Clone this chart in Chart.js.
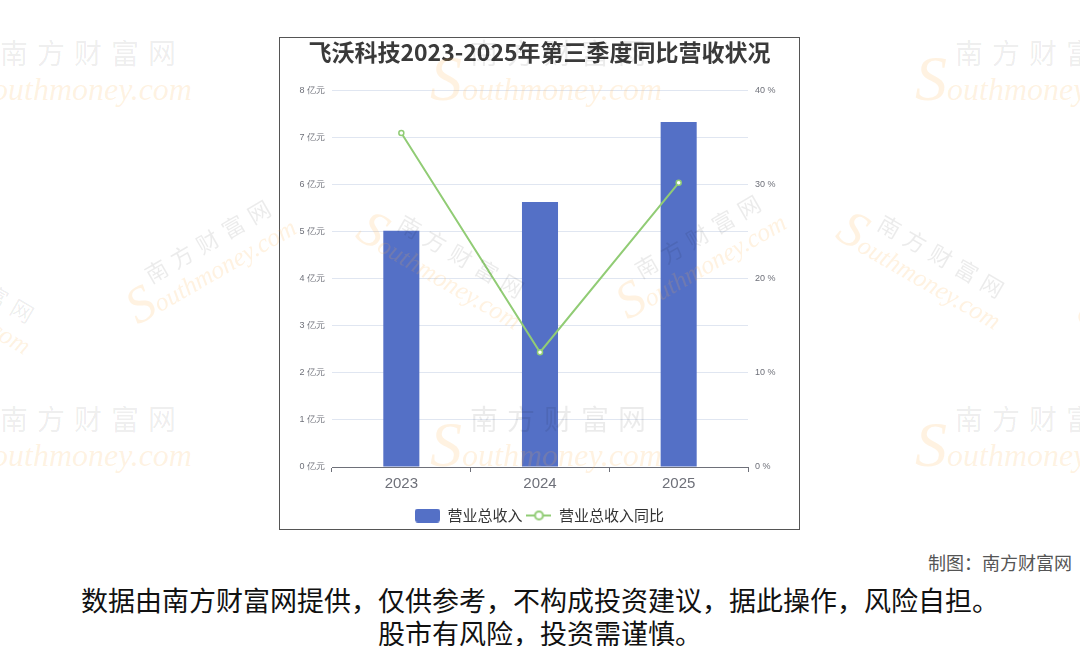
<!DOCTYPE html>
<html>
<head>
<meta charset="utf-8">
<script src="https://cdn.jsdelivr.net/npm/chart.js@4"></script>
<style>
  html, body { margin: 0; padding: 0; background: #fff; }
  body { width: 1080px; height: 646px; position: relative; overflow: hidden;
         font-family: "Noto Sans CJK SC", "Noto Sans", sans-serif; }
  #box { position: absolute; left: 279px; top: 37px; width: 519px; height: 491px;
         border: 1px solid #555; background: #fff; }
  #credit { position: absolute; right: 8px; top: 549px; font-size: 18px; color: #555; }
  .note { position: absolute; left: 0; width: 1080px; text-align: center; font-size: 27px; color: #111; }
  .wm { position: absolute; pointer-events: none; white-space: nowrap; transform-origin: 50% 50%; }
  .wm .cn { font-size: 28px; letter-spacing: 9px; color: rgba(0,0,0,0.08); padding-left: 40px; }
  .wm .en { font-family: "Liberation Serif", serif; font-style: italic; font-size: 32px;
            color: rgba(252,175,70,0.16); margin-top: -8px; }
  .wm .en b { font-size: 64px; font-weight: normal; line-height: 30px; }
</style>
</head>
<body>
<div id="box"><canvas id="chart" width="519" height="491"></canvas></div>
<div id="credit">制图：南方财富网</div>
<div class="note" style="top:580px">数据由南方财富网提供，仅供参考，不构成投资建议，据此操作，风险自担。</div>
<div class="note" style="top:613px">股市有风险，投资需谨慎。</div>
<div id="marks"></div>
<script>
// data
const years = ['2023', '2024', '2025'];
const revenue = [5.02, 5.63, 7.33];      // 亿元
const growth = [35.5, 12.2, 30.2];       // %
const leftTicks = [0, 1, 2, 3, 4, 5, 6, 7, 8];
const rightTicks = [0, 10, 20, 30, 40];

// legend icons
function icon(draw) {
    const c = document.createElement('canvas');
    c.width = 25; c.height = 14;
    draw(c.getContext('2d'));
    return c;
}
const barIcon = icon(function(g) {
    g.fillStyle = '#5470c6';
    g.beginPath();
    g.roundRect(0, 0, 25, 14, 3);
    g.fill();
});
const lineIcon = icon(function(g) {
    g.strokeStyle = '#91cc75';
    g.lineWidth = 2;
    g.beginPath(); g.moveTo(0, 7); g.lineTo(25, 7); g.stroke();
    g.fillStyle = '#fff';
    g.beginPath(); g.arc(12.5, 7, 4, 0, Math.PI * 2); g.fill(); g.stroke();
});

new Chart(document.getElementById('chart'), {
    data: {
        labels: years,
        datasets: [{
            type: 'bar',
            label: '营业总收入',
            data: revenue,
            backgroundColor: '#5470c6',
            categoryPercentage: 1,
            barPercentage: 0.26,
            yAxisID: 'y',
            order: 1
        }, {
            type: 'line',
            label: '营业总收入同比',
            data: growth,
            borderColor: '#91cc75',
            borderWidth: 2,
            pointRadius: 2.5,
            pointBackgroundColor: '#fff',
            pointBorderColor: '#91cc75',
            pointBorderWidth: 1.5,
            tension: 0,
            yAxisID: 'y1',
            order: 0
        }]
    },
    options: {
        responsive: false,
        animation: false,
        layout: { padding: { top: 0, left: 0, right: 0, bottom: -4 } },
        plugins: {
            title: {
                display: true,
                text: '飞沃科技2023-2025年第三季度同比营收状况',
                color: '#3a3a3a',
                font: { size: 23, weight: 'bold', family: "'Noto Sans CJK SC', sans-serif" },
                padding: { top: 0, bottom: 25 }
            },
            legend: {
                position: 'bottom',
                labels: {
                    usePointStyle: true,
                    pointStyleWidth: 25,
                    color: '#333',
                    font: { size: 15, family: "'Noto Sans CJK SC', sans-serif" },
                    padding: 4,
                    sort: function(a, b) { return a.datasetIndex - b.datasetIndex; },
                    generateLabels: function(chart) {
                        const items = Chart.defaults.plugins.legend.labels.generateLabels(chart);
                        items.forEach(function(it) {
                            it.pointStyle = it.datasetIndex === 0 ? barIcon : lineIcon;
                        });
                        return items;
                    }
                }
            },
            tooltip: { enabled: false }
        },
        scales: {
            x: {
                grid: { display: true, drawOnChartArea: false, drawTicks: true, tickLength: 5, offset: true, color: '#6e7079' },
                border: { color: '#6e7079' },
                ticks: { color: '#6e7079', font: { size: 15 }, padding: 3 },
                afterFit: function(s) { s.height = 37; }
            },
            y: {
                position: 'left',
                min: 0, max: 8,
                afterBuildTicks: function(s) { s.ticks = leftTicks.map(function(v) { return { value: v }; }); },
                grid: { color: '#e0e6f1', drawTicks: false },
                border: { display: false },
                ticks: { color: '#6e7079', font: { size: 9 }, padding: 7,
                         callback: function(v) { return v + ' 亿元'; } },
                afterFit: function(s) { s.width = 52; }
            },
            y1: {
                position: 'right',
                min: 0, max: 40,
                afterBuildTicks: function(s) { s.ticks = rightTicks.map(function(v) { return { value: v }; }); },
                grid: { display: false, drawTicks: false },
                border: { display: false },
                ticks: { color: '#6e7079', font: { size: 9 }, padding: 7,
                         callback: function(v) { return v + ' %'; } },
                afterFit: function(s) { s.width = 51; }
            }
        }
    }
});

// watermark
const spots = [
    [-40, 32, 0], [430, 32, 0], [915, 32, 0],
    [-40, 398, 0], [430, 398, 0], [915, 398, 0],
    [90, 220, -30], [330, 225, 30], [580, 215, -30], [810, 225, 30],
    [-160, 250, 30], [1040, 240, -30]
];
const marks = document.getElementById('marks');
spots.forEach(function(p) {
    const d = document.createElement('div');
    d.className = 'wm';
    d.style.left = p[0] + 'px';
    d.style.top = p[1] + 'px';
    d.style.transform = 'rotate(' + p[2] + 'deg)' + (p[2] ? ' scale(0.8)' : '');
    d.innerHTML = '<div class="cn">南方财富网</div><div class="en"><b>S</b>outhmoney.com</div>';
    marks.appendChild(d);
});
</script>
</body>
</html>
